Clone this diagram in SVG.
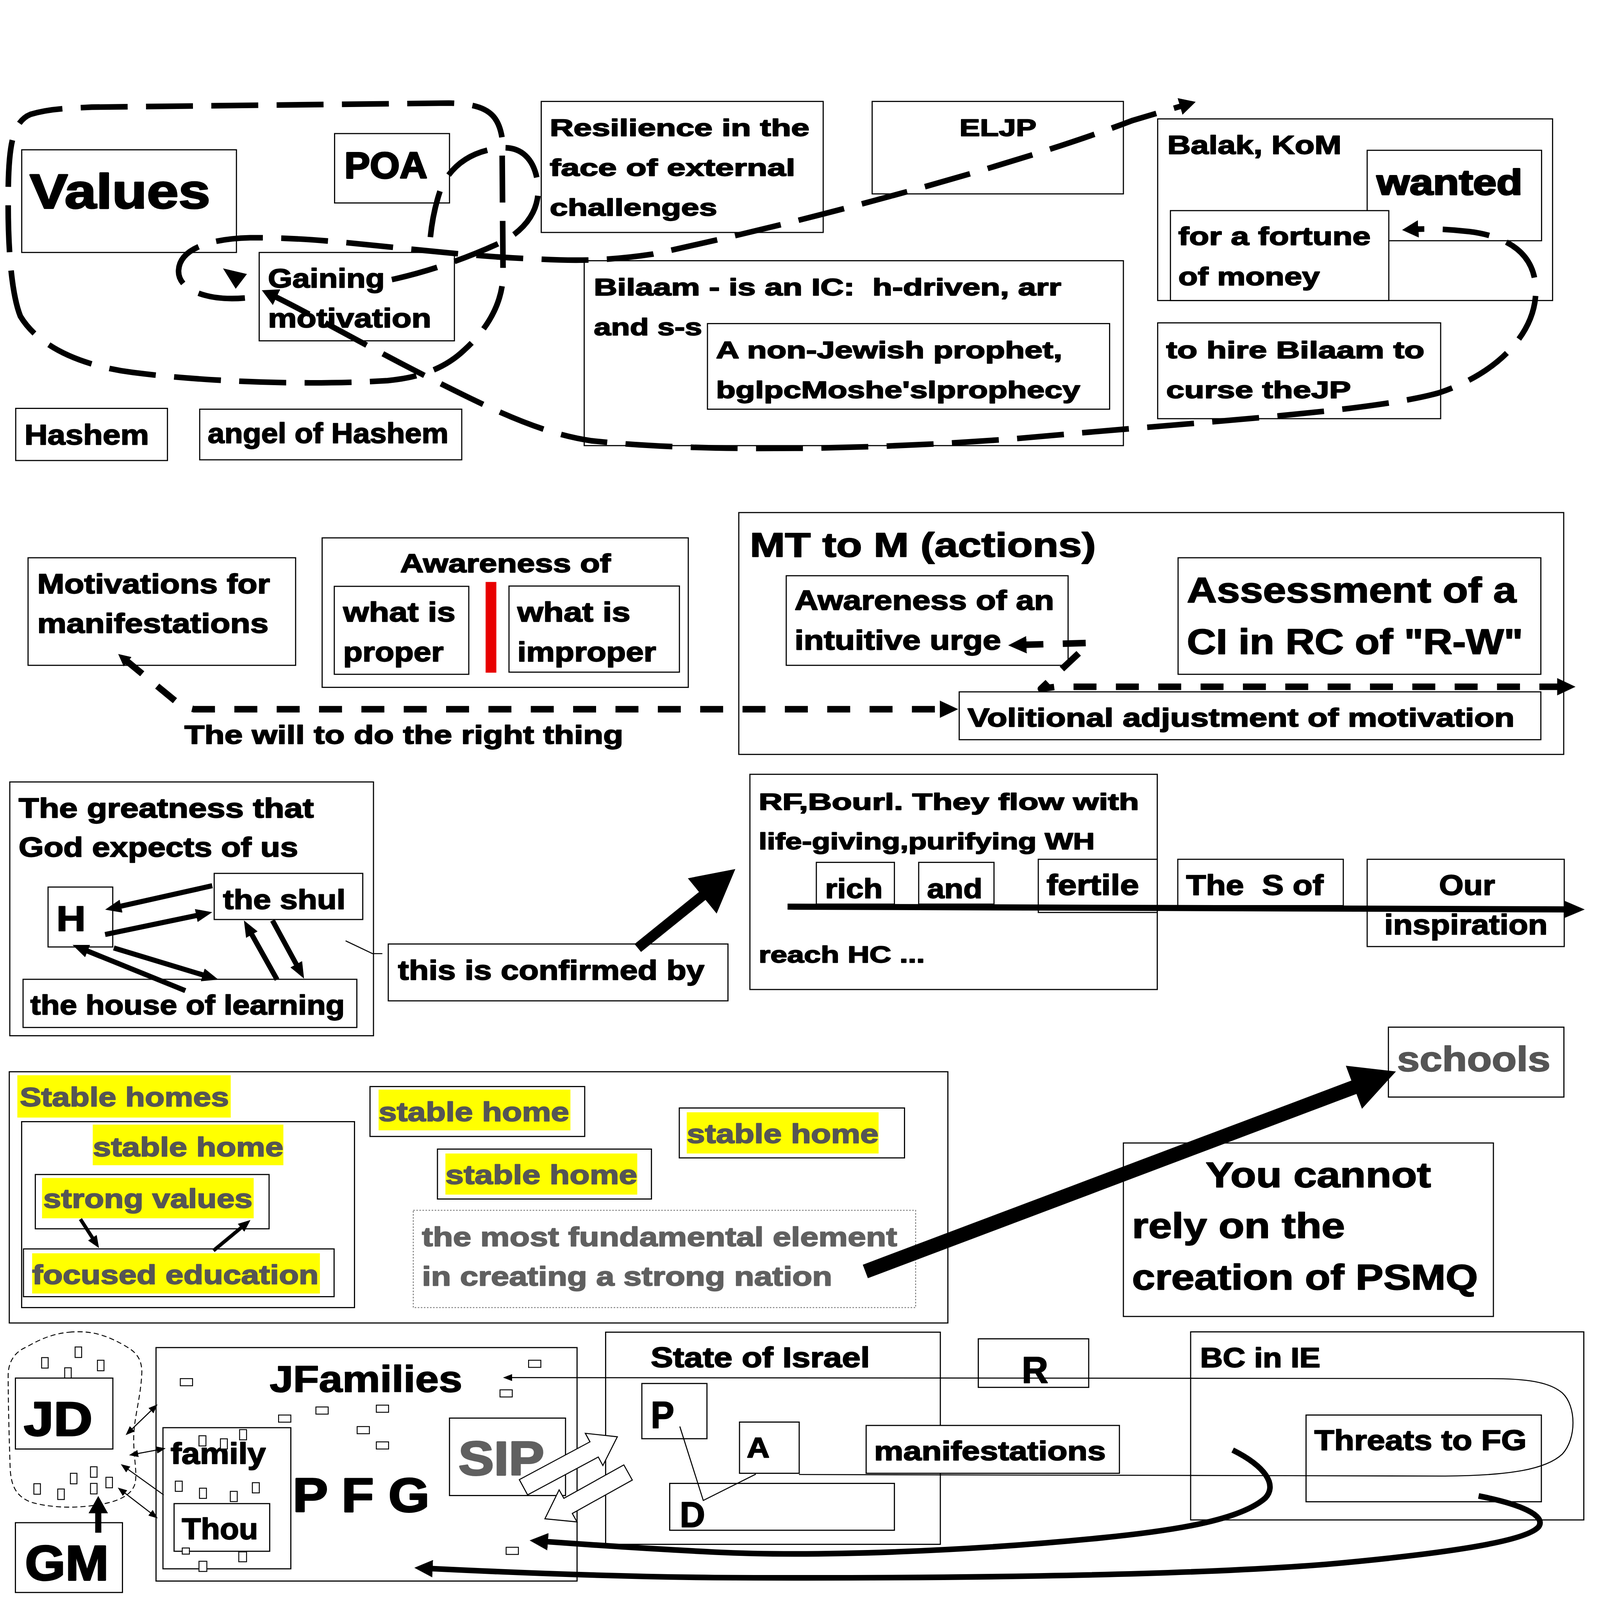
<svg xmlns="http://www.w3.org/2000/svg" width="4371" height="4371" viewBox="0 0 4371 4371">
<style>
.b{fill:#fff;stroke:#000;stroke-width:1.1}
.t{font-family:'Liberation Sans',Arial,Helvetica,sans-serif;font-weight:700;fill:#000;stroke:#000;stroke-width:0.9px;stroke-linejoin:round}
.tl{stroke-width:1.5px}
.g{fill:#555;stroke:#555}
.hl{fill:#ffff00;stroke:none}
.dash{fill:none;stroke:#000;stroke-width:5.5;stroke-dasharray:46 18}
.dash2{fill:none;stroke:#000;stroke-width:6.4;stroke-dasharray:22.5 19;stroke-linejoin:round}
.thin{fill:none;stroke:#000;stroke-width:1}
.sol{fill:none;stroke:#000}
.tiny{fill:#fff;stroke:#000;stroke-width:0.9}
.hollow{fill:#fff;stroke:#000;stroke-width:1}
.dot{fill:#fff;stroke:#777;stroke-width:0.9;stroke-dasharray:1.5 1.5}
</style>
<defs>
<marker id="mk-dash" viewBox="0 0 16 17" markerWidth="16" markerHeight="17" refX="10" refY="8.5" orient="auto-start-reverse" markerUnits="userSpaceOnUse"><path d="M0,0 L16,8.5 L0,17 Z" fill="#000"/></marker>
<marker id="mk-d2" viewBox="0 0 18 17" markerWidth="18" markerHeight="17" refX="6" refY="8.5" orient="auto-start-reverse" markerUnits="userSpaceOnUse"><path d="M0,0 L18,8.5 L0,17 Z" fill="#000"/></marker>
<marker id="mk-s" viewBox="0 0 12 12" markerWidth="12" markerHeight="12" refX="4" refY="6" orient="auto-start-reverse" markerUnits="userSpaceOnUse"><path d="M0,0 L12,6 L0,12 Z" fill="#000"/></marker>
<marker id="mk-fat" viewBox="0 0 16 13" markerWidth="16" markerHeight="13" refX="6" refY="6.5" orient="auto-start-reverse" markerUnits="userSpaceOnUse"><path d="M0,0 L16,6.5 L0,13 Z" fill="#000"/></marker>
<marker id="mk-med" viewBox="0 0 12 10" markerWidth="12" markerHeight="10" refX="4" refY="5" orient="auto-start-reverse" markerUnits="userSpaceOnUse"><path d="M0,0 L12,5 L0,10 Z" fill="#000"/></marker>
<marker id="mk-big" viewBox="0 0 18 17" markerWidth="18" markerHeight="17" refX="5" refY="8.5" orient="auto-start-reverse" markerUnits="userSpaceOnUse"><path d="M0,0 L18,8.5 L0,17 Z" fill="#000"/></marker>
<marker id="mk-thin" viewBox="0 0 9 7" markerWidth="9" markerHeight="7" refX="7" refY="3.5" orient="auto-start-reverse" markerUnits="userSpaceOnUse"><path d="M0,0 L9,3.5 L0,7 Z" fill="#000"/></marker>
<marker id="mk-long" viewBox="0 0 20 17" markerWidth="20" markerHeight="17" refX="6" refY="8.5" orient="auto-start-reverse" markerUnits="userSpaceOnUse"><path d="M0,0 L20,8.5 L0,17 Z" fill="#000"/></marker>
<marker id="mk-gm" viewBox="0 0 17 19" markerWidth="17" markerHeight="19" refX="5" refY="9.5" orient="auto-start-reverse" markerUnits="userSpaceOnUse"><path d="M0,0 L17,9.5 L0,19 Z" fill="#000"/></marker>
</defs>
<rect x="0" y="0" width="4371" height="4371" fill="#fff"/>
<g transform="scale(2.6123)">

<g id="values"><rect class="b" x="21.3" y="146.8" width="210.4" height="100.6"/><text class="t tl" x="29.2" y="203.9" font-size="47.5" textLength="176.8" lengthAdjust="spacingAndGlyphs">Values</text></g>
<g id="poa"><rect class="b" x="327.9" y="130.9" width="112.6" height="68"/><text class="t tl" x="337.5" y="174.4" font-size="36" textLength="81.3" lengthAdjust="spacingAndGlyphs">POA</text></g>
<g id="gaining"><rect class="b" x="254" y="247.4" width="191.3" height="86.6"/><text class="t" x="262.6" y="281.9" font-size="26.5" textLength="114.4" lengthAdjust="spacingAndGlyphs">Gaining</text><text class="t" x="262.6" y="320.9" font-size="26.5" textLength="160" lengthAdjust="spacingAndGlyphs">motivation</text></g>
<g id="hashem"><rect class="b" x="15.4" y="400.2" width="148.7" height="51.1"/><text class="t" x="24" y="435.5" font-size="28" textLength="122" lengthAdjust="spacingAndGlyphs">Hashem</text></g>
<g id="angel"><rect class="b" x="195.7" y="401" width="256.8" height="49.6"/><text class="t" x="203.6" y="434.2" font-size="28" textLength="235.8" lengthAdjust="spacingAndGlyphs">angel of Hashem</text></g>
<g id="resilience"><rect class="b" x="530.4" y="99.4" width="276.3" height="128.4"/><text class="t" x="538.8" y="133.4" font-size="23.5" textLength="254.4" lengthAdjust="spacingAndGlyphs">Resilience in the</text><text class="t" x="538.8" y="172.4" font-size="23.5" textLength="240.5" lengthAdjust="spacingAndGlyphs">face of external</text><text class="t" x="538.8" y="211.4" font-size="23.5" textLength="164" lengthAdjust="spacingAndGlyphs">challenges</text></g>
<g id="eljp"><rect class="b" x="854.7" y="99.4" width="246.2" height="90.6"/><text class="t" x="940.3" y="133.4" font-size="23.5" textLength="75.4" lengthAdjust="spacingAndGlyphs">ELJP</text></g>
<g id="bilaam"><rect class="b" x="572.5" y="255.5" width="528.4" height="181.2"/><text class="t" x="582" y="289.5" font-size="23.5" textLength="458" lengthAdjust="spacingAndGlyphs" xml:space="preserve">Bilaam - is an IC:  h-driven, arr</text><text class="t" x="582" y="328.5" font-size="23.5" textLength="106" lengthAdjust="spacingAndGlyphs">and s-s</text></g>
<g id="nonjewish"><rect class="b" x="693.3" y="317.1" width="394.1" height="83.9"/><text class="t" x="701.7" y="351.1" font-size="23.5" textLength="339.3" lengthAdjust="spacingAndGlyphs">A non-Jewish prophet,</text><text class="t" x="701.7" y="390.2" font-size="23.5" textLength="356.8" lengthAdjust="spacingAndGlyphs">bglpcMoshe'slprophecy</text></g>
<g id="balak"><rect class="b" x="1134.5" y="116.5" width="387" height="178"/><text class="t" x="1144" y="151" font-size="25.5" textLength="170.6" lengthAdjust="spacingAndGlyphs">Balak, KoM</text></g>
<g id="wanted"><rect class="b" x="1339.8" y="147.3" width="170.9" height="88.6"/><text class="t tl" x="1349.2" y="190.6" font-size="35" textLength="142.7" lengthAdjust="spacingAndGlyphs">wanted</text></g>
<g id="fortune"><rect class="b" x="1147" y="206.4" width="214" height="88.1"/><text class="t" x="1154.7" y="239.9" font-size="25" textLength="188.5" lengthAdjust="spacingAndGlyphs">for a fortune</text><text class="t" x="1154.7" y="279.4" font-size="25" textLength="138.6" lengthAdjust="spacingAndGlyphs">of money</text></g>
<g id="hire"><rect class="b" x="1134.5" y="316.4" width="277.3" height="93.9"/><text class="t" x="1142.9" y="351.1" font-size="23.5" textLength="253" lengthAdjust="spacingAndGlyphs">to hire Bilaam to</text><text class="t" x="1142.9" y="390.2" font-size="23.5" textLength="181" lengthAdjust="spacingAndGlyphs">curse theJP</text></g>

<g id="motivations"><rect class="b" x="27.5" y="546.6" width="262.2" height="105.4"/><text class="t" x="36.6" y="581.5" font-size="26.8" textLength="228" lengthAdjust="spacingAndGlyphs">Motivations for</text><text class="t" x="36.6" y="620" font-size="26.8" textLength="226.5" lengthAdjust="spacingAndGlyphs">manifestations</text></g>
<g id="awareness"><rect class="b" x="315.7" y="527.1" width="358.8" height="146.5"/><text class="t" x="392.2" y="560.7" font-size="25.7" textLength="206.3" lengthAdjust="spacingAndGlyphs">Awareness of</text>
<rect class="b" x="327.6" y="574.6" width="131.8" height="86.2"/><text class="t" x="336.3" y="609.1" font-size="27" textLength="110" lengthAdjust="spacingAndGlyphs">what is</text><text class="t" x="336.3" y="648" font-size="27" textLength="98.4" lengthAdjust="spacingAndGlyphs">proper</text>
<rect x="475.9" y="570.3" width="10.5" height="88.9" fill="#e80000"/>
<rect class="b" x="498.8" y="574.3" width="167" height="84.4"/><text class="t" x="507" y="609.1" font-size="27" textLength="110.8" lengthAdjust="spacingAndGlyphs">what is</text><text class="t" x="507" y="648" font-size="27" textLength="136" lengthAdjust="spacingAndGlyphs">improper</text></g>
<g id="will"><text class="t" x="180.8" y="728.9" font-size="25.7" textLength="430" lengthAdjust="spacingAndGlyphs">The will to do the right thing</text></g>
<g id="mt"><rect class="b" x="724" y="502.3" width="808.4" height="237"/><text class="t" x="734.9" y="545.5" font-size="33.5" textLength="339" lengthAdjust="spacingAndGlyphs">MT to M (actions)</text></g>
<g id="urge"><rect class="b" x="770.5" y="564.2" width="276.2" height="87.8"/><text class="t" x="778.7" y="597.5" font-size="26.8" textLength="254.3" lengthAdjust="spacingAndGlyphs">Awareness of an</text><text class="t" x="778.7" y="636.8" font-size="26.8" textLength="202.3" lengthAdjust="spacingAndGlyphs">intuitive urge</text></g>
<g id="assessment"><rect class="b" x="1154.5" y="546.6" width="355.5" height="114.2"/><text class="t" x="1163.2" y="590.3" font-size="35" textLength="322.8" lengthAdjust="spacingAndGlyphs">Assessment of a</text><text class="t" x="1163.2" y="640.8" font-size="35" textLength="329.3" lengthAdjust="spacingAndGlyphs">CI in RC of "R-W"</text></g>
<g id="volitional"><rect class="b" x="940" y="678" width="570" height="46.9"/><text class="t" x="948.2" y="712.1" font-size="25.7" textLength="536" lengthAdjust="spacingAndGlyphs">Volitional adjustment of motivation</text></g>

<g id="greatness"><rect class="b" x="9.6" y="766.3" width="356.4" height="248.7"/><text class="t" x="18.3" y="801.1" font-size="26.7" textLength="289.2" lengthAdjust="spacingAndGlyphs">The greatness that</text><text class="t" x="18.3" y="839.4" font-size="26.7" textLength="273.8" lengthAdjust="spacingAndGlyphs">God expects of us</text></g>
<g id="h"><rect class="b" x="47.1" y="869.3" width="63.4" height="58.7"/><text class="t" x="55.2" y="912.4" font-size="35" textLength="28.8" lengthAdjust="spacingAndGlyphs">H</text></g>
<g id="shul"><rect class="b" x="209.9" y="855.9" width="145.6" height="45.2"/><text class="t" x="218.6" y="890.7" font-size="26.7" textLength="120" lengthAdjust="spacingAndGlyphs">the shul</text></g>
<g id="house"><rect class="b" x="22.6" y="959.7" width="327.1" height="47.2"/><text class="t" x="29.8" y="994" font-size="26.7" textLength="308" lengthAdjust="spacingAndGlyphs">the house of learning</text></g>
<g id="confirmed"><rect class="b" x="380.5" y="925.1" width="332.9" height="55.7"/><text class="t" x="390.1" y="960.2" font-size="26.7" textLength="300.2" lengthAdjust="spacingAndGlyphs">this is confirmed by</text></g>
<g id="rf"><rect class="b" x="734.9" y="758.8" width="399.2" height="210.9"/><text class="t" x="743.5" y="793.5" font-size="22.5" textLength="372.7" lengthAdjust="spacingAndGlyphs">RF,Bourl. They flow with</text><text class="t" x="743.5" y="832.4" font-size="22.5" textLength="329.3" lengthAdjust="spacingAndGlyphs">life-giving,purifying WH</text><text class="t" x="743.5" y="943.2" font-size="23" textLength="162.8" lengthAdjust="spacingAndGlyphs">reach HC ...</text></g>
<g id="rich"><rect class="b" x="800" y="845.1" width="76.5" height="40.9"/><text class="t" x="808.6" y="880" font-size="27" textLength="56.4" lengthAdjust="spacingAndGlyphs">rich</text></g>
<g id="and"><rect class="b" x="900.3" y="845.1" width="73.8" height="40.9"/><text class="t" x="908.5" y="880" font-size="27" textLength="54.2" lengthAdjust="spacingAndGlyphs">and</text></g>
<g id="fertile"><rect class="b" x="1017.5" y="842.1" width="116.6" height="52.1"/><text class="t" x="1025.6" y="877" font-size="28.5" textLength="90.6" lengthAdjust="spacingAndGlyphs">fertile</text></g>
<g id="sof"><rect class="b" x="1154.2" y="842.1" width="162.2" height="45.4"/><text class="t" x="1162.4" y="877" font-size="28" textLength="134.5" lengthAdjust="spacingAndGlyphs" xml:space="preserve">The  S of</text></g>
<g id="our"><rect class="b" x="1339.8" y="842.1" width="193.1" height="85.5"/><text class="t" x="1410.3" y="877" font-size="28" textLength="54.8" lengthAdjust="spacingAndGlyphs">Our</text><text class="t" x="1356.6" y="915.7" font-size="28" textLength="160" lengthAdjust="spacingAndGlyphs">inspiration</text></g>

<g id="stable-homes"><rect class="b" x="9.1" y="1050.3" width="919.8" height="246.2"/><rect class="hl" x="17" y="1053.7" width="209.1" height="41.5"/><text class="t g" x="19.4" y="1084.1" font-size="26.4" textLength="205" lengthAdjust="spacingAndGlyphs">Stable homes</text></g>
<g id="inner-home"><rect class="b" x="21.2" y="1099.2" width="326.2" height="182.2"/><rect class="hl" x="90.9" y="1102.1" width="186.8" height="39.8"/><text class="t g" x="91" y="1133" font-size="26.4" textLength="186.7" lengthAdjust="spacingAndGlyphs">stable home</text></g>
<g id="strong-values"><rect class="b" x="34.6" y="1151" width="229.1" height="53.2"/><rect class="hl" x="41.2" y="1154.4" width="207.4" height="39.5"/><text class="t g" x="42.4" y="1183.6" font-size="26.4" textLength="205" lengthAdjust="spacingAndGlyphs">strong values</text></g>
<g id="focused"><rect class="b" x="23" y="1223.9" width="304.4" height="46.8"/><rect class="hl" x="31.5" y="1228.2" width="282" height="39.4"/><text class="t g" x="31.5" y="1258.2" font-size="26.4" textLength="280.7" lengthAdjust="spacingAndGlyphs">focused education</text></g>
<g id="home2"><rect class="b" x="362.6" y="1064.8" width="210.4" height="48.9"/><rect class="hl" x="371" y="1067.8" width="188" height="39.9"/><text class="t g" x="371" y="1098.6" font-size="26.4" textLength="186.8" lengthAdjust="spacingAndGlyphs">stable home</text></g>
<g id="home3"><rect class="b" x="665.7" y="1085.8" width="220.7" height="48.9"/><rect class="hl" x="673" y="1090" width="188" height="40.4"/><text class="t g" x="673" y="1120.1" font-size="26.4" textLength="188" lengthAdjust="spacingAndGlyphs">stable home</text></g>
<g id="home4"><rect class="b" x="428.7" y="1126.1" width="209.7" height="48.9"/><rect class="hl" x="436.5" y="1130.4" width="188" height="40.3"/><text class="t g" x="436.5" y="1160.4" font-size="26.4" textLength="188" lengthAdjust="spacingAndGlyphs">stable home</text></g>
<g id="fundamental"><rect class="dot" x="405" y="1186.1" width="492.3" height="95.3"/><text class="t" style="fill:#606060;stroke:#606060" x="413.5" y="1221.3" font-size="26.4" textLength="465.6" lengthAdjust="spacingAndGlyphs">the most fundamental element</text><text class="t" style="fill:#606060;stroke:#606060" x="413.5" y="1259.9" font-size="26.4" textLength="402" lengthAdjust="spacingAndGlyphs">in creating a strong nation</text></g>
<g id="schools"><rect class="b" x="1360.6" y="1006.6" width="172" height="68.5"/><text class="t g" x="1369.1" y="1049.8" font-size="34" textLength="150.3" lengthAdjust="spacingAndGlyphs">schools</text></g>
<g id="cannot"><rect class="b" x="1100.9" y="1120.1" width="362.6" height="170"/><text class="t" x="1181.5" y="1163.3" font-size="35" textLength="220.8" lengthAdjust="spacingAndGlyphs">You cannot</text><text class="t" x="1109.4" y="1213.1" font-size="35" textLength="208.6" lengthAdjust="spacingAndGlyphs">rely on the</text><text class="t" x="1109.4" y="1263.8" font-size="35" textLength="338.9" lengthAdjust="spacingAndGlyphs">creation of PSMQ</text></g>

<g id="jd-cluster"><path d="M68,1305.5 C85,1304 100,1306 121,1318 C132,1324 139,1330 139,1345 C138,1370 131,1390 131,1410 C131,1430 135,1445 132,1455 C128,1466 115,1472 94,1475 C75,1478 50,1478 30,1472 C15,1466 11,1455 10,1440 C9,1410 8,1375 8,1348 C8,1335 14,1325 26,1320 C40,1312 52,1307 68,1305.5 Z" fill="none" stroke="#000" stroke-width="0.9" stroke-dasharray="5 3"/>
<rect class="tiny" x="40.8" y="1330.4" width="6.4" height="10.3"/><rect class="tiny" x="73.6" y="1320" width="6.4" height="10.3"/><rect class="tiny" x="95.5" y="1333" width="6.4" height="10.3"/><rect class="tiny" x="63.4" y="1340.4" width="6.4" height="10.3"/><rect class="tiny" x="33.2" y="1454" width="6.4" height="10.3"/><rect class="tiny" x="56.6" y="1459.2" width="6.4" height="10.3"/><rect class="tiny" x="69" y="1443.8" width="6.4" height="10.3"/><rect class="tiny" x="88.7" y="1437.4" width="6.4" height="10.3"/><rect class="tiny" x="88.7" y="1453.7" width="6.4" height="10.3"/><rect class="tiny" x="103.8" y="1447.7" width="6.4" height="10.3"/></g>
<g id="jd"><rect class="b" x="15.1" y="1350.5" width="95.5" height="69.5"/><text class="t tl" x="23.4" y="1406.8" font-size="47" textLength="67.2" lengthAdjust="spacingAndGlyphs">JD</text></g>
<g id="gm"><rect class="b" x="15.1" y="1492.2" width="104.9" height="68.4"/><text class="t tl" x="24.5" y="1548.6" font-size="48" textLength="82" lengthAdjust="spacingAndGlyphs">GM</text></g>
<g id="jfamilies"><rect class="b" x="152.9" y="1320.6" width="412.6" height="228.8"/><text class="t" x="264.3" y="1363.9" font-size="36" textLength="188.7" lengthAdjust="spacingAndGlyphs">JFamilies</text><text class="t tl" x="286.9" y="1481.6" font-size="47" textLength="134" lengthAdjust="spacingAndGlyphs" xml:space="preserve">P F G</text>
<rect class="tiny" x="518" y="1333" width="12" height="7"/><rect class="tiny" x="176.7" y="1351" width="12" height="7"/><rect class="tiny" x="490" y="1362" width="12" height="7"/><rect class="tiny" x="309.6" y="1378.8" width="12" height="7"/><rect class="tiny" x="368.8" y="1377" width="12" height="7"/><rect class="tiny" x="273" y="1386.7" width="12" height="7"/><rect class="tiny" x="350" y="1398" width="12" height="7"/><rect class="tiny" x="368.8" y="1413" width="12" height="7"/><rect class="tiny" x="496" y="1516.3" width="12" height="7"/></g>
<g id="family"><rect class="b" x="159.7" y="1399.1" width="125.3" height="138.3"/><text class="t" x="167.2" y="1434.3" font-size="28.8" textLength="93.3" lengthAdjust="spacingAndGlyphs">family</text>
<rect class="b" x="170.6" y="1473.5" width="93.7" height="46.7"/><text class="t" x="178.2" y="1508.2" font-size="28.8" textLength="74.7" lengthAdjust="spacingAndGlyphs">Thou</text>
<rect class="tiny" x="195" y="1407" width="6.8" height="10"/><rect class="tiny" x="216" y="1410" width="6.8" height="10"/><rect class="tiny" x="234.8" y="1401" width="6.8" height="10"/><rect class="tiny" x="171.8" y="1451.5" width="6.8" height="10"/><rect class="tiny" x="195.5" y="1458.4" width="6.8" height="10"/><rect class="tiny" x="225.7" y="1461.5" width="6.8" height="10"/><rect class="tiny" x="247.3" y="1453" width="6.8" height="10"/><rect class="tiny" x="178.6" y="1517" width="7" height="6"/><rect class="tiny" x="234" y="1520.8" width="7.6" height="9.7"/><rect class="tiny" x="195" y="1530" width="7.7" height="10"/></g>
<g id="sip"><rect class="b" x="440.5" y="1389.7" width="113.7" height="75.9"/><text class="t tl" style="fill:#606060;stroke:#606060" x="449.2" y="1445.5" font-size="47" textLength="84.2" lengthAdjust="spacingAndGlyphs">SIP</text></g>
<g id="state"><rect class="b" x="593.5" y="1305.5" width="328" height="207.9"/><text class="t" x="637.8" y="1339.8" font-size="27.6" textLength="214.6" lengthAdjust="spacingAndGlyphs">State of Israel</text></g>
<g id="p"><rect class="b" x="629" y="1355.8" width="63.8" height="54.1"/><text class="t" x="637.8" y="1399.1" font-size="37" textLength="23" lengthAdjust="spacingAndGlyphs">P</text></g>
<g id="a"><rect class="b" x="724.7" y="1393.6" width="58.5" height="50.2"/><text class="t" x="731.8" y="1428.3" font-size="27.6" textLength="22.3" lengthAdjust="spacingAndGlyphs">A</text></g>
<g id="d"><rect class="b" x="656.3" y="1453.7" width="220.2" height="45.9"/><text class="t" x="666.2" y="1496.2" font-size="35" textLength="24.8" lengthAdjust="spacingAndGlyphs">D</text></g>
<g id="manifestations"><rect class="b" x="848.8" y="1396.9" width="248.2" height="46.9"/><text class="t" x="856.6" y="1430.9" font-size="26.4" textLength="227" lengthAdjust="spacingAndGlyphs">manifestations</text></g>
<g id="r"><rect class="b" x="958.7" y="1312" width="108.2" height="47.6"/><text class="t" x="1001.3" y="1355.3" font-size="36" textLength="25.9" lengthAdjust="spacingAndGlyphs">R</text></g>
<g id="bc"><rect class="b" x="1166.8" y="1305.2" width="385.3" height="184.3"/><text class="t" x="1176.1" y="1339.9" font-size="27" textLength="117.8" lengthAdjust="spacingAndGlyphs">BC in IE</text></g>
<g id="threats"><rect class="b" x="1279.9" y="1386.7" width="230.6" height="85"/><text class="t" x="1288" y="1421" font-size="28" textLength="208" lengthAdjust="spacingAndGlyphs">Threats to FG</text></g>

<g id="connectors">
<path class="dash" d="M20,310 C12,290 8,250 8,200 C8,150 10,120 30,112 C50,106 70,106 90,105 L440,101 C475,102 488,110 492,135 L493,270 C492,300 475,325 455,343 C435,362 410,370 380,373 C300,378 200,374 130,365 C70,357 35,335 20,310 Z"/>
<path class="dash" d="M240,292 C205,295 174,285 175,265 C176,244 205,234 245,233 C330,232 420,250 530,254 C570,256 600,255 640,249 C800,215 1000,160 1110,118 L1166,101.5" marker-end="url(#mk-dash)"/>
<polygon points="218.5,263 242,268.5 231,283" fill="#000"/>
<path class="dash" d="M384,274 C420,266 455,254 490,238 C515,226 530,205 527,180 C524,155 510,143 490,145 C460,148 440,165 432,185 C425,205 422,225 421,242"/>
<path class="dash" d="M262,287 C300,305 360,340 430,375 C480,400 530,425 580,432 C700,445 900,440 1050,425 C1200,412 1350,402 1410,385 C1470,365 1505,325 1505,285 C1505,250 1480,232 1440,227 C1415,224 1395,224 1380,225" marker-start="url(#mk-dash)" marker-end="url(#mk-dash)"/>
<path class="dash2" d="M122,646 L178,692 L190,695 L927,695" marker-start="url(#mk-s)" marker-end="url(#mk-d2)"/>
<path class="dash2" d="M1000,632 L1068,630 L1020,675 L1035,673 L1532,673" marker-start="url(#mk-d2)" marker-end="url(#mk-d2)"/>
<path class="sol" stroke-width="5" d="M208,868 L112.8,889.3" marker-end="url(#mk-fat)"/>
<path class="sol" stroke-width="5" d="M103,915.8 L198.2,896" marker-end="url(#mk-fat)"/>
<path class="sol" stroke-width="5" d="M111.5,929 L204.4,957.1" marker-end="url(#mk-fat)"/>
<path class="sol" stroke-width="5" d="M181.6,970.8 L80.3,929.8" marker-end="url(#mk-fat)"/>
<path class="sol" stroke-width="5" d="M271.5,960 L243.9,910.7" marker-end="url(#mk-fat)"/>
<path class="sol" stroke-width="5" d="M267,902 L293.2,950.2" marker-end="url(#mk-fat)"/>
<path class="thin" d="M338.7,922 L365,934.5 L374.7,934.5"/>
<polygon points="621.8,925.1 685,874.1 674.1,860.7 720.6,851.6 702.3,895.3 691.4,881.9 628.2,932.9" fill="#000"/>
<path class="sol" stroke-width="6" d="M771.8,888.5 L1539,891.2" marker-end="url(#mk-long)"/>
<path class="sol" stroke-width="3.5" d="M78.8,1194.7 L92.7,1216.3" marker-end="url(#mk-med)"/>
<path class="sol" stroke-width="3.5" d="M209.2,1225.6 L239.3,1200.7" marker-end="url(#mk-med)"/>
<polygon points="845.5,1239.4 1324.3,1058.95 1318.9,1044.4 1368,1050 1334.7,1086.6 1329.3,1072.05 850.5,1252.6" fill="#000"/>
<path class="sol" stroke-width="6" d="M96.3,1502 L96.3,1478" marker-end="url(#mk-gm)"/>
<path class="thin" d="M124.6,1405 L153,1377.6" marker-start="url(#mk-thin)" marker-end="url(#mk-thin)"/>
<path class="thin" d="M128.4,1425.7 L160.4,1419.7" marker-start="url(#mk-thin)" marker-end="url(#mk-thin)"/>
<path class="thin" d="M120,1436 L160.4,1465" marker-start="url(#mk-thin)"/>
<path class="thin" d="M117,1459 L153,1486.7" marker-start="url(#mk-thin)" marker-end="url(#mk-thin)"/>
<polygon class="hollow" points="508.95,1450.05 578.15,1412.95 573.6,1404.6 605,1408 590.8,1436.2 586.3,1427.85 517.05,1464.95"/>
<polygon class="hollow" points="611.36,1435.58 552.56,1468.33 547.94,1460.03 534,1488.4 565.46,1491.47 560.84,1483.17 619.64,1450.42"/>
<path class="thin" d="M666.2,1397.9 L689.2,1470.4 L740.7,1444.6"/>
<path class="thin" d="M783,1445 L1416,1446.5 C1480,1446 1515,1440 1531,1425 C1545,1410 1545,1378 1531,1365 C1518,1354 1495,1351 1460,1351 L495,1350" marker-end="url(#mk-thin)"/>
<path class="sol" stroke-width="5.5" d="M1208,1421 C1240,1437 1252,1455 1240,1468 C1215,1490 1150,1500 1080,1507 C950,1520 800,1526 700,1521 C640,1518 580,1514 532,1510.5" marker-end="url(#mk-big)"/>
<path class="sol" stroke-width="5.5" d="M1449,1466 C1490,1474 1515,1485 1508,1496 C1495,1512 1400,1524 1300,1533 C1150,1545 900,1547 700,1546 C600,1545 500,1541 419,1537" marker-end="url(#mk-big)"/>
</g>
</g>
</svg>
